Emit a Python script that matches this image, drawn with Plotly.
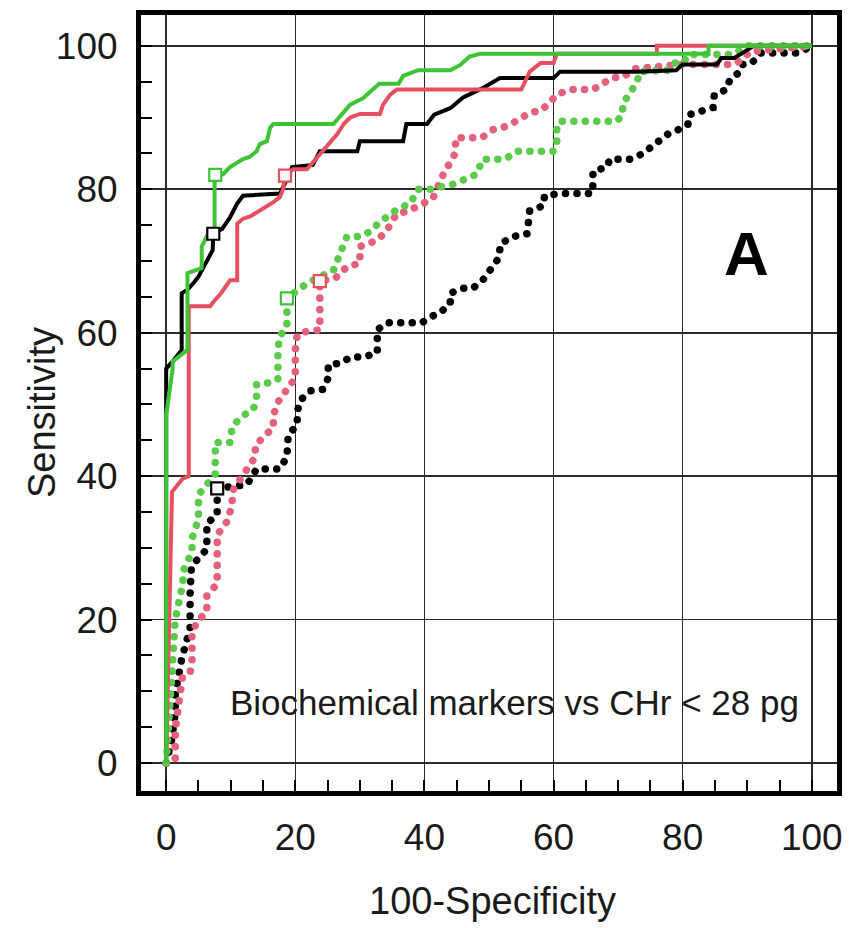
import plotly.graph_objects as go

# ---------------- data ----------------
bs_x = [0, 0, 1, 2.4, 2.4, 3.3, 4.3, 5, 6, 7.2, 7.3, 8.7, 9.9, 11, 11.9, 17.6, 18.5, 19.5, 22.7, 23.8, 29.6, 30,
        36.7, 37.2, 40.4, 41.5, 44, 46, 49, 51.7, 60, 61, 73, 79, 80, 85.3, 86, 88, 89.6, 91, 100]
bs_y = [0, 55, 56, 57.6, 65.5, 66, 67, 67.8, 69.5, 71.5, 73.8, 74.5, 76.1, 78, 79.1, 79.4, 81, 83.1, 83.4, 85.3,
        85.3, 86.7, 86.7, 89.1, 89.1, 90.4, 91.3, 92.8, 94.1, 95.5, 95.5, 96.4, 96.4, 96.6, 97.4, 97.4, 98.3,
        98.3, 99.2, 100, 100]

rs_x = [0, 0.8, 0.9, 2.5, 3.5, 3.5, 6.8, 7.5, 8.5, 9.9, 11, 11, 11.9, 13, 14.5, 15.5, 16.6, 17.6, 18.1, 18.4,
        19.7, 21.8, 23.4, 24.5, 26.5, 27.5, 28.5, 30, 33.1, 33.6, 34.7, 35.7, 55, 56.3, 58, 60, 60.5, 76, 76, 100]
rs_y = [0, 33, 37.8, 39.6, 40, 63.7, 63.7, 64.5, 65.5, 67.3, 67.3, 75.2, 75.9, 76.2, 77, 77.5, 78.2, 78.9, 80,
        81.9, 82.8, 82.8, 84.4, 85.7, 87.7, 89.1, 90, 90.5, 90.5, 91.8, 93.2, 93.9, 93.9, 96.4, 97.6, 97.6,
        98.9, 98.9, 100, 100]

gs_x = [0, 0, 1, 1, 3.3, 3.3, 4.5, 5.5, 5.5, 6.3, 7.5, 7.5, 8.8, 9.9, 11.9, 12.9, 14, 14.5, 15.6, 16.1, 16.6,
        25.9, 28.5, 30.5, 31.6, 33, 36, 36.7, 39, 44, 45.5, 47, 48.6, 84, 84, 100]
gs_y = [0, 48.5, 55, 56, 57.6, 68.3, 68.7, 69, 72, 73.5, 73.5, 82, 82.1, 83.1, 84.2, 84.5, 85.3, 86.3, 86.7,
        88.6, 89.1, 89.1, 91.8, 92.7, 93.6, 94.7, 94.7, 95.8, 96.6, 96.6, 97.3, 98.5, 98.9, 98.9, 100, 100]

bd_x = [0, 0.8, 1.4, 1.4, 2.4, 3.7, 3.7, 3.9, 5, 6.3, 6.3, 7.9, 7.9, 7.9, 9.6, 12.5, 14, 17.6, 18.7, 18.9, 20.3,
        20.3, 20.7, 22.3, 24.3, 25.1, 25.1, 27.2, 28.5, 30.5, 32.7, 32.7, 34.2, 39.6, 41.2, 42.4, 44, 44, 46,
        47.5, 49, 50.4, 51.5, 51.8, 53.7, 55.9, 56, 56.3, 58.4, 58.6, 61, 66, 66.1, 66.1, 68.3, 68.7, 71.8,
        73.7, 75, 76.5, 78, 79.6, 80.8, 81, 82.7, 84.7, 84.9, 86.8, 87.3, 88.9, 89.3, 90.7, 92, 98, 100]
bd_y = [0, 3, 7, 9.7, 14.5, 18.8, 23.5, 27.3, 28.6, 29.8, 33.4, 34.6, 36.4, 38.3, 38.5, 38.8, 41, 41, 42.7,
        45.7, 47.2, 48.9, 50.5, 51.9, 52.1, 53.7, 55.5, 55.8, 56.6, 56.6, 57.2, 60.4, 61.4, 61.4, 62.3, 62.8,
        64, 65.5, 66.2, 66.2, 67.3, 69, 70.4, 72.4, 73.4, 73.8, 75.2, 77, 77.7, 79.1, 79.4, 79.4, 80.7, 82.5,
        83.1, 84.2, 84.2, 84.9, 85.8, 87, 87.9, 88.4, 89, 90.4, 90.9, 91.4, 93.2, 93.9, 95.3, 96.4, 97.4,
        97.6, 99, 99, 100]

rd_x = [0, 1.4, 1.4, 2, 2.5, 3.7, 4, 4, 4.8, 6.3, 6.3, 7.9, 7.9, 9.6, 10.2, 10.3, 12.5, 13.8, 13.8, 15.3, 16.6,
        16.6, 17.3, 18.7, 20, 20, 20.3, 21.8, 23.8, 23.8, 26.2, 28, 30, 30, 32.7, 34.2, 35.7, 37.3, 39.8,
        41.3, 42.7, 43.7, 44.7, 44.9, 48.9, 50.6, 52.8, 54.8, 56.3, 57.9, 59.1, 60.5, 62.5, 66.1, 67.7, 69.2,
        70.7, 72.5, 80, 87.8, 89.3, 90.4, 100]
rd_y = [0, 0.4, 4.6, 9, 11.9, 12.5, 14.3, 18, 19.8, 21, 23.3, 25, 31.8, 33.9, 36.2, 38, 41, 42.7, 44.3, 45.7,
        46.8, 48.5, 50.3, 52.1, 53.7, 57.6, 59.7, 60.2, 60.4, 67.2, 67.6, 69.2, 69.7, 72, 72.9, 74.3, 76.6,
        76.9, 78, 78.7, 81.7, 83.5, 84.9, 87.2, 87.2, 88.3, 88.8, 89.8, 90.7, 90.9, 91.8, 93.2, 93.9, 93.9,
        94.9, 95.6, 95.6, 96.8, 97.4, 97.4, 98.1, 99.2, 100]

gd_x = [0, 0.3, 0.8, 1.4, 2.2, 2.6, 2.6, 4, 4, 5, 5, 7.6, 7.6, 9.9, 10.2, 11.5, 13.5, 14, 14, 15.8, 17.3, 17.3,
        17.6, 18.7, 18.7, 20.5, 22, 25.9, 26.5, 27.2, 28, 30, 31.6, 32.8, 34.4, 35.9, 37.8, 39, 40.9, 42.7,
        44.4, 46.3, 48.1, 49, 52.5, 54.3, 60, 60.5, 60.5, 61, 69.8, 70.7, 70.7, 71.5, 72.9, 73.4, 77.6, 78.5,
        80, 81, 87.8, 90, 100]
gd_y = [0, 5, 12, 20, 23.5, 25, 26.7, 29.5, 31.3, 34, 37.4, 40.3, 44.7, 44.7, 46.8, 48.2, 49.3, 51, 52.8, 53,
        53.5, 57.6, 59.5, 60.9, 64.8, 66, 67, 68.7, 70.1, 71.5, 73.4, 73.4, 74.1, 75.2, 76.3, 77.3, 78, 80,
        80, 80.3, 80.7, 81.4, 82.1, 84.2, 84.2, 85.3, 85.3, 86.3, 88.6, 89.5, 89.5, 90.4, 91.8, 93, 94.9,
        96.4, 96.6, 97.6, 97.6, 98.8, 98.8, 100, 100]

# cut-off points (open squares)
cut_x = [7.3, 18.4, 7.6, 7.9, 23.8, 18.7]
cut_y = [73.8, 81.9, 82.0, 38.3, 67.2, 64.8]
cut_colors = ["#000000", "#e8505f", "#3cc435", "#000000", "#e8505f", "#3cc435"]

tick_vals = [0, 20, 40, 60, 80, 100]
tick_text = ["0", "20", "40", "60", "80", "100"]

BLACK = "#000000"
RED = "#e8505f"
REDD = "#e5607a"
GREEN = "#3cc435"
GREEND = "#5acb4a"
FONT = "Liberation Sans, Arial, sans-serif"

fig = go.Figure()

dot_dash = "0.1px,11.4px"
for xs, ys, col in [(bd_x, bd_y, BLACK), (rd_x, rd_y, REDD), (gd_x, gd_y, GREEND)]:
    fig.add_trace(go.Scatter(x=xs, y=ys, mode="lines",
                             line=dict(color=col, width=7.5, dash=dot_dash),
                             showlegend=False, hoverinfo="skip"))

for xs, ys, col in [(bs_x, bs_y, BLACK), (rs_x, rs_y, RED), (gs_x, gs_y, GREEN)]:
    fig.add_trace(go.Scatter(x=xs, y=ys, mode="lines",
                             line=dict(color=col, width=4),
                             showlegend=False, hoverinfo="skip"))

fig.add_trace(go.Scatter(x=cut_x, y=cut_y, mode="markers",
                         marker=dict(symbol="square", size=12, color="white",
                                     line=dict(color=cut_colors, width=2.2)),
                         showlegend=False, hoverinfo="skip"))

axis_common = dict(
    tickmode="array", tickvals=tick_vals, ticktext=tick_text,
    showgrid=True, gridcolor="#2a2a2a", gridwidth=1.6,
    zeroline=False, showline=True, linecolor="black", linewidth=5, mirror=True,
    ticks="", tickfont=dict(family=FONT, size=37, color="#1a1a1a"),
    minor=dict(dtick=5, tick0=0, ticks="inside", ticklen=11, tickwidth=2,
               tickcolor="black", showgrid=False),
)

fig.update_layout(
    width=855, height=928,
    margin=dict(l=141, r=18, t=10, b=137),
    paper_bgcolor="white", plot_bgcolor="white",
    xaxis=dict(range=[-3.9, 103.9], ticklabelstandoff=10, **axis_common),
    yaxis=dict(range=[-3.9, 104.3], ticklabelstandoff=11, **axis_common),
    font=dict(family=FONT, color="#1a1a1a"),
)

fig.add_annotation(text="Biochemical markers vs CHr < 28 pg", x=53.9, y=8.4, xref="x", yref="y",
                   showarrow=False, font=dict(family=FONT, size=35, color="#1a1a1a"),
                   xanchor="center", yanchor="middle")
fig.add_annotation(text="<b>A</b>", x=89.9, y=71, xref="x", yref="y", showarrow=False,
                   font=dict(family=FONT, size=62, color="black"), xanchor="center", yanchor="middle")
fig.add_annotation(text="100-Specificity", x=0.5, y=0, xref="paper", yref="paper", showarrow=False,
                   xanchor="center", yanchor="middle", yshift=-110, xshift=3,
                   font=dict(family=FONT, size=38, color="#1a1a1a"))
fig.add_annotation(text="Sensitivity", x=0, y=0.5, xref="paper", yref="paper", showarrow=False,
                   textangle=-90, xanchor="center", yanchor="middle", xshift=-99, yshift=-10,
                   font=dict(family=FONT, size=38, color="#1a1a1a"))

post = """
document.body.style.margin = '0';
document.body.style.padding = '0';
var gd = document.getElementById('{plot_id}');
gd.querySelectorAll('.scatterlayer path.js-line').forEach(function(p){
  var d = p.style.strokeDasharray;
  if (d && d !== 'none') { p.style.strokeLinecap = 'round'; }
});
"""

fig.write_html("out.html", post_script=post, config={"staticPlot": True})
